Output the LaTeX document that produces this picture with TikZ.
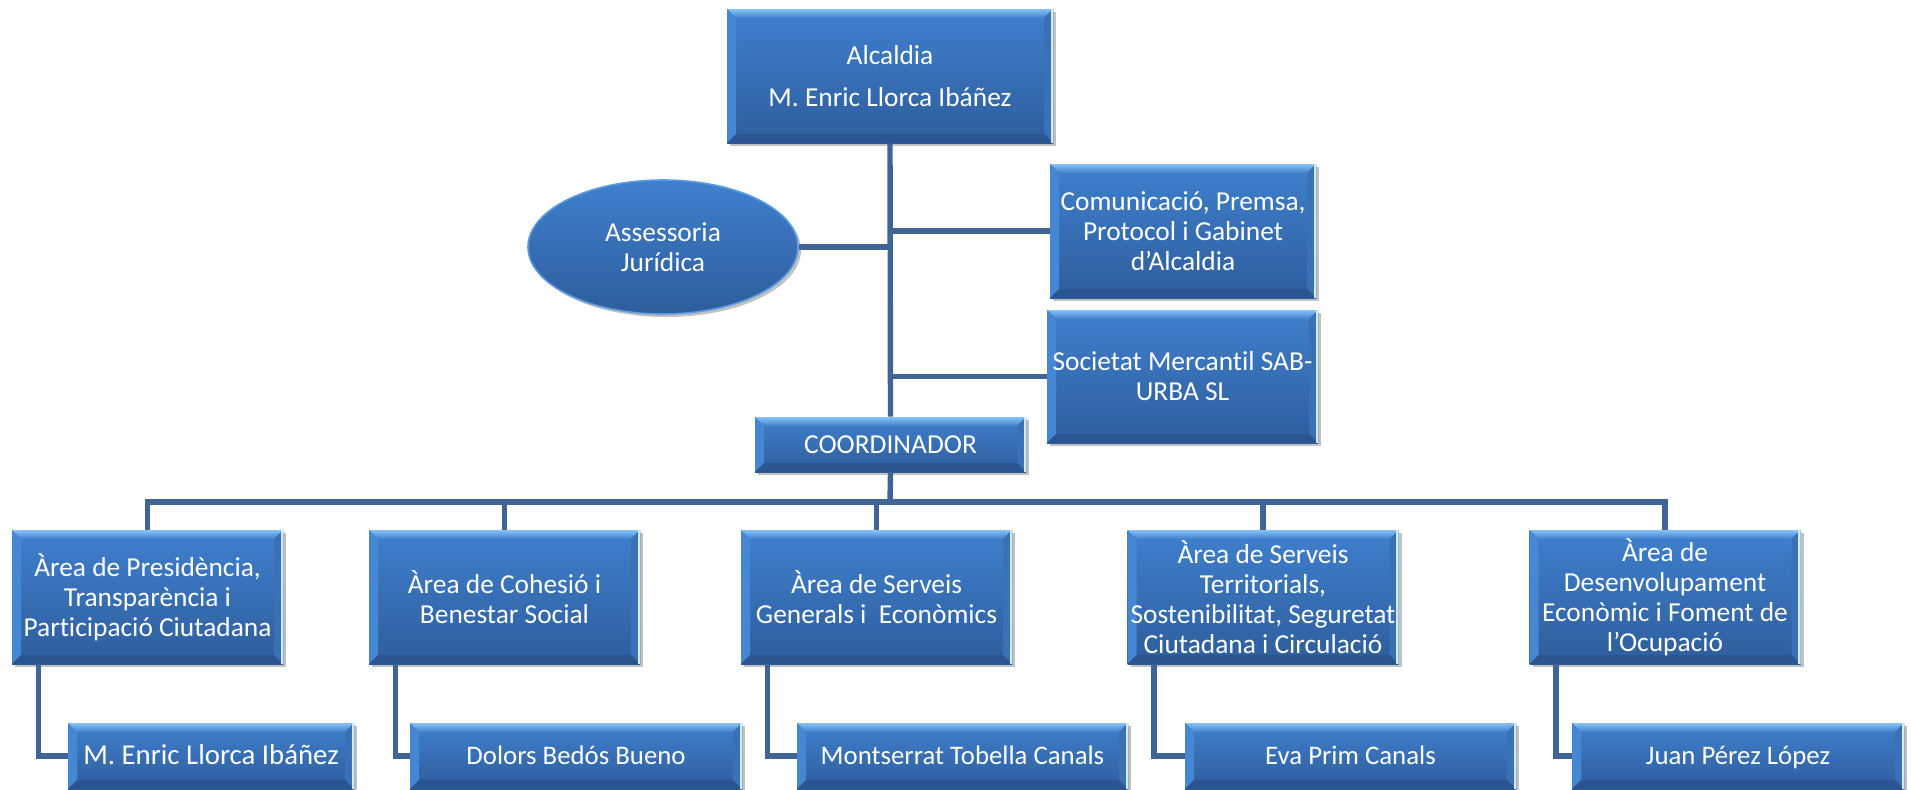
\documentclass[tikz,border=0pt]{standalone}
\usepackage{fontspec}
\setmainfont{Carlito}[Ligatures=NoCommon]
\usetikzlibrary{shapes.geometric,shadows}

\definecolor{boxtop}{HTML}{3F80CE}
\definecolor{boxbot}{HTML}{2E5D9B}
\definecolor{bevhi}{HTML}{86C2F4}
\definecolor{bevleft}{HTML}{4587D3}
\definecolor{bevright}{HTML}{3A70B4}
\definecolor{bevlow}{HTML}{2A5590}
\definecolor{bevedge}{HTML}{CDEBFF}
\definecolor{ovalrim}{HTML}{5C9CE2}
\definecolor{linkblue}{HTML}{3E6596}

\newcommand{\bevw}{4.5pt}

\tikzset{
  bevel/.style={path picture={
    \path (path picture bounding box.south west) coordinate (bsw)
          (path picture bounding box.north east) coordinate (bne)
          (bsw |- bne) coordinate (bnw)
          (bsw -| bne) coordinate (bse);
    \shade[top color=bevhi, bottom color=boxtop] (bnw) -- (bne) -- ([shift={(-\bevw,-\bevw)}]bne) -- ([shift={(\bevw,-\bevw)}]bnw) -- cycle;
    \fill[bevleft] (bnw) -- ([shift={(\bevw,-\bevw)}]bnw) -- ([shift={(\bevw,\bevw)}]bsw) -- (bsw) -- cycle;
    \fill[bevright] (bne) -- (bse) -- ([shift={(-\bevw,\bevw)}]bse) -- ([shift={(-\bevw,-\bevw)}]bne) -- cycle;
    \fill[bevlow] (bsw) -- ([shift={(\bevw,\bevw)}]bsw) -- ([shift={(-\bevw,\bevw)}]bse) -- (bse) -- cycle;
    \draw[bevedge, line width=1.2pt] ([xshift=-0.6pt]bne) -- ([xshift=-0.6pt]bse);
  }},
  boxshadow/.style={drop shadow={shadow xshift=1.5pt, shadow yshift=-1.5pt, opacity=.35, fill=black!70}},
  orgbox/.style={rectangle, inner sep=0pt, align=center, text=white,
    top color=boxtop, bottom color=boxbot, bevel, boxshadow,
    font=\fontsize{13.7}{15}\selectfont},
  orgoval/.style={ellipse, inner sep=0pt, align=center, text=white,
    top color=boxtop, bottom color=boxbot, draw=ovalrim, line width=0.8pt, boxshadow,
    font=\fontsize{13.7}{15}\selectfont},
  area/.style={orgbox, minimum width=135.5pt, minimum height=67pt},
  person/.style={orgbox, minimum height=33pt, text height=10.5pt, text depth=2.5pt,
    font=\fontsize{13.4}{15}\selectfont},
  link/.style={draw=linkblue, line width=2.7pt}
}

\begin{document}
\begin{tikzpicture}[x=0.5pt,y=-0.5pt]
\useasboundingbox (0,0) rectangle (1912,789);

% top of the chart
\node[orgbox, minimum width=163pt, minimum height=67pt] (alc) at (890,76) {Alcaldia\\[6pt]M. Enric Llorca Ibáñez};
\node[orgoval, minimum width=135pt, minimum height=67pt] (ass) at (663,247) {Assessoria\\Jurídica};
\node[orgbox, minimum width=133pt, minimum height=67pt] (com) at (1183,231) {Comunicació, Premsa,\\Protocol i Gabinet\\d’Alcaldia};
\node[orgbox, minimum width=135.5pt, minimum height=66.5pt] (soc) at (1182.5,376.5) {Societat Mercantil SAB-\\URBA SL};
\node[orgbox, minimum width=135.5pt, minimum height=27.5pt] (coord) at (890.5,444.5) {COORDINADOR};
\coordinate (bus) at (890,502);

% areas
\node[area] (pres) at (147.5,597) {Àrea de Presidència,\\Transparència i\\Participació Ciutadana};
\node[area] (coh) at (504.5,597) {Àrea de Cohesió i\\Benestar Social};
\node[area] (serv) at (876.5,597) {Àrea de Serveis\\Generals i~ Econòmics};
\node[area] (terr) at (1263,597) {Àrea de Serveis\\Territorials,\\Sostenibilitat, Seguretat\\Ciutadana i Circulació};
\node[area] (des) at (1665,597) {Àrea de\\Desenvolupament\\Econòmic i Foment de\\l’Ocupació};

% people
\node[person, minimum width=143pt, font=\fontsize{14.4}{16}\selectfont] (pres-p) at (211,756) {M. Enric Llorca Ibáñez};
\node[person, minimum width=166pt] (coh-p) at (576,756) {Dolors Bedós Bueno};
\node[person, minimum width=165.5pt] (serv-p) at (962.5,756) {Montserrat Tobella Canals};
\node[person, minimum width=165.5pt] (terr-p) at (1350.5,756) {Eva Prim Canals};
\node[person, minimum width=166pt] (des-p) at (1738,756) {Juan Pérez López};

% connectors
\draw[link] (alc.south) -- (coord.north);
\draw[link] (ass.east) -- (ass.east -| alc.south);
\draw[link] (com.west) -- (com.west -| alc.south);
\draw[link] (soc.west) -- (soc.west -| alc.south);
\draw[link] (coord.south) -- (bus);
\foreach \n in {pres,coh,serv,terr,des}{
  \draw[link] (bus) -| (\n.north);
  \draw[link] ([xshift=13.5pt]\n.south west) |- (\n-p.west);
}
\end{tikzpicture}
\end{document}
